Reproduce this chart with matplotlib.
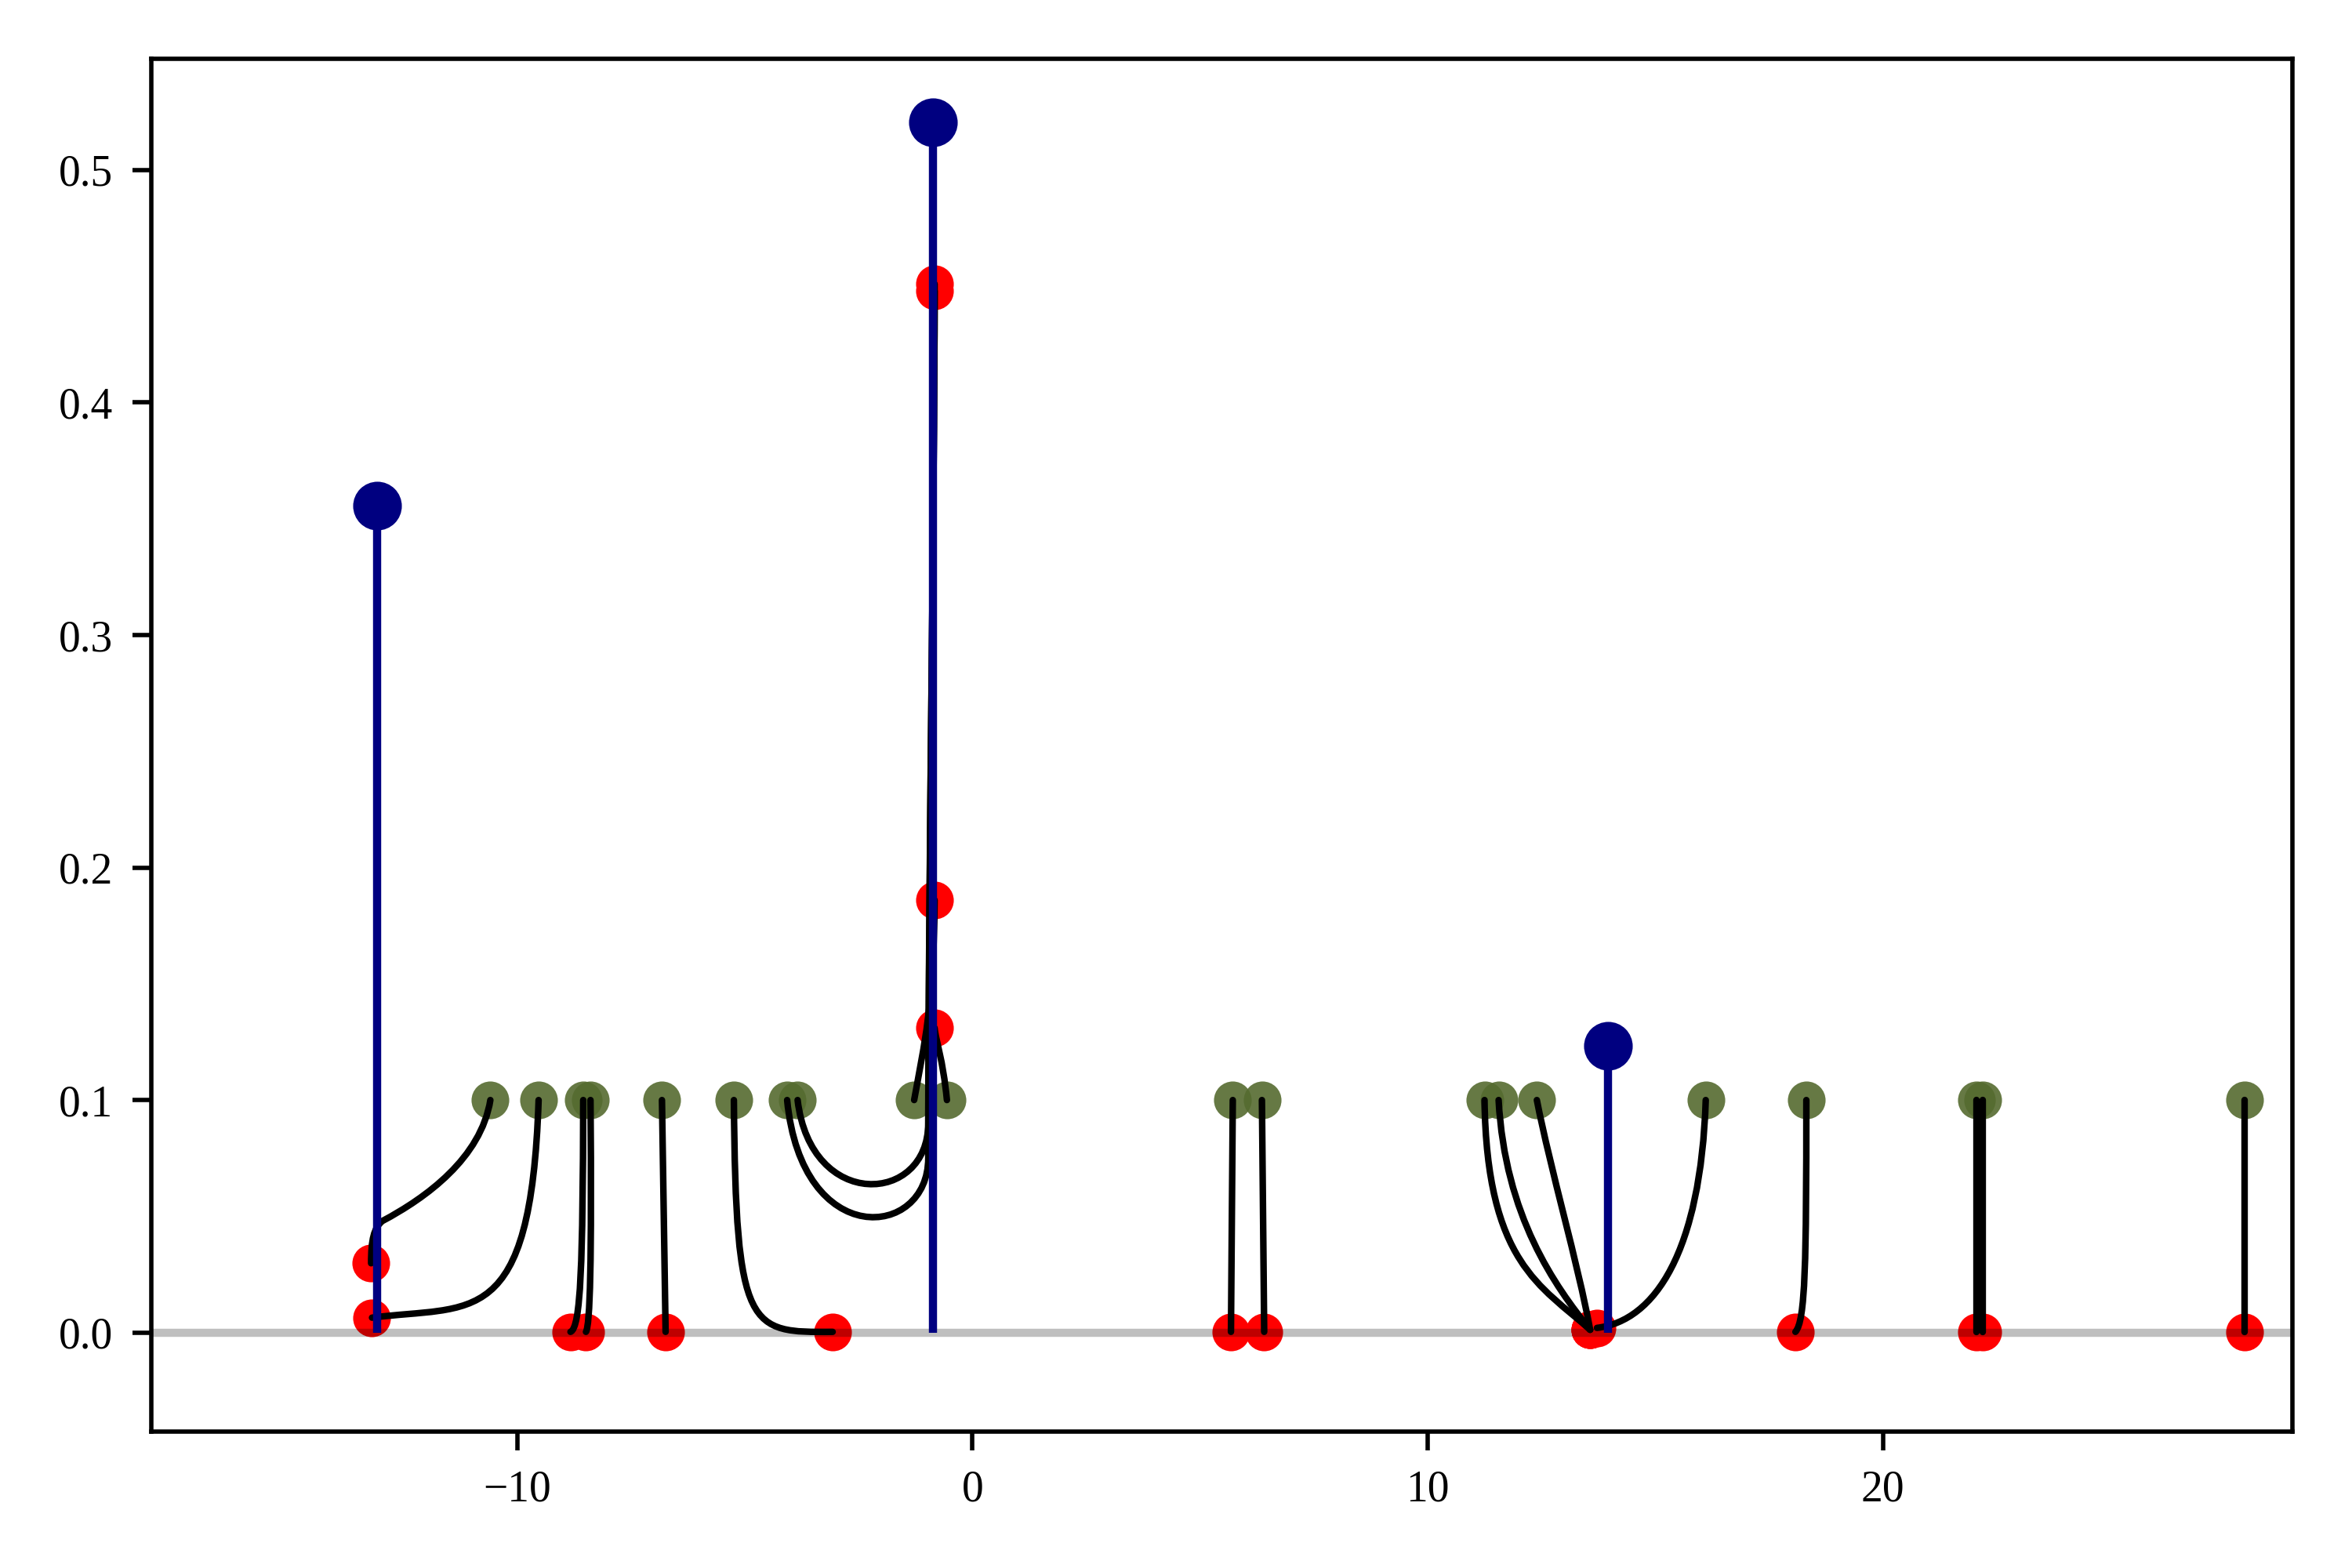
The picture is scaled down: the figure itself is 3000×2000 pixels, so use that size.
import matplotlib as mpl
mpl.use("Agg")
import matplotlib.pyplot as plt
from matplotlib.path import Path
from matplotlib.patches import PathPatch

mpl.rcParams["font.family"] = ["Liberation Serif", "DejaVu Serif"]
mpl.rcParams["font.size"] = 8

# target atoms (blue stems)
target_x = [-13.08, -0.875, 13.97]
target_w = [0.3555, 0.5206, 0.1233]

# particles: start (green) and end (red) positions
start_x = [-10.59, -9.53, -8.55, -8.39, -6.82, -5.24, -4.07, -3.84, -1.28, -0.56,
           5.72, 6.36, 11.25, 11.56, 12.40, 16.11, 18.32, 22.06, 22.20, 27.94]
start_w = [0.1, 0.1, 0.1, 0.1, 0.1, 0.1, 0.1, 0.1, 0.1, 0.1,
           0.1, 0.1, 0.1, 0.1, 0.1, 0.1, 0.1, 0.1, 0.1, 0.1]
end_x = [-13.21, -13.19, -8.83, -8.49, -6.74, -3.07, -0.83, -0.83, -0.83, -0.83,
         5.68, 6.41, 13.57, 13.57, 13.57, 13.72, 18.08, 22.06, 22.20, 27.94]
end_w = [0.0298, 0.0064, 0.0003, 0.0003, 0.0003, 0.0003, 0.451, 0.448, 0.186, 0.131,
         0.0003, 0.0003, 0.0012, 0.0012, 0.0012, 0.002, 0.0003, 0.0003, 0.0003, 0.0003]

# bezier control points of each trajectory (between start and end)
traj_ctrl = [
    [(-10.8, 0.075), (-12.0, 0.058), (-12.96, 0.048), (-13.15, 0.045), (-13.21, 0.040)],
    [(-9.7, 0.0), (-11.0, 0.012)],
    [(-8.56, 0.03), (-8.60, 0.002)],
    [(-8.36, 0.03), (-8.40, 0.003)],
    [],
    [(-5.2, 0.0), (-4.9, 0.0)],
    [(-3.75, 0.035), (-0.97, 0.04), (-0.97, 0.075), (-0.96, 0.2), (-0.84, 0.35)],
    [(-3.55, 0.052), (-0.97, 0.055), (-0.97, 0.09), (-0.96, 0.2), (-0.84, 0.35)],
    [(-1.05, 0.125), (-0.85, 0.14)],
    [(-0.65, 0.118), (-0.80, 0.125)],
    [],
    [],
    [(11.3, 0.03), (12.5, 0.02)],
    [(11.7, 0.05), (12.8, 0.02)],
    [(12.7, 0.07), (13.3, 0.03)],
    [(16.0, 0.035), (15.0, 0.005)],
    [(18.32, 0.03), (18.30, 0.005)],
    [],
    [],
    [],
]

fig, ax = plt.subplots(figsize=(6, 4), dpi=500)
plt.subplots_adjust(left=0.0643, right=0.9747, top=0.9627, bottom=0.087)

ax.scatter(end_x, end_w, s=48, color="red", linewidths=0, zorder=2)
ax.axhline(0, color="k", alpha=0.25, lw=1.5, zorder=2.5)
ax.scatter(start_x, start_w, s=48, color="darkolivegreen", alpha=0.9,
           linewidths=0, zorder=2)

for i in range(len(start_x)):
    verts = [(start_x[i], start_w[i])] + traj_ctrl[i] + [(end_x[i], end_w[i])]
    if len(verts) == 2:
        codes = [Path.MOVETO, Path.LINETO]
    else:
        codes = [Path.MOVETO] + [Path.CURVE4] * (len(verts) - 1)
    patch = PathPatch(Path(verts, codes), fill=False, edgecolor="black",
                      lw=1.2, capstyle="round", zorder=3)
    ax.add_patch(patch)

ax.vlines(target_x, 0, target_w, color="navy", lw=1.5, zorder=4)
ax.scatter(target_x, target_w, s=80, color="navy", linewidths=0, zorder=4)

ax.set_xlim(-18.04, 29.0)
ax.set_ylim(-0.0426, 0.548)
ax.set_xticks([-10, 0, 10, 20])
ax.set_yticks([0.0, 0.1, 0.2, 0.3, 0.4, 0.5])

plt.savefig("out.png", dpi=500)
plt.close()
